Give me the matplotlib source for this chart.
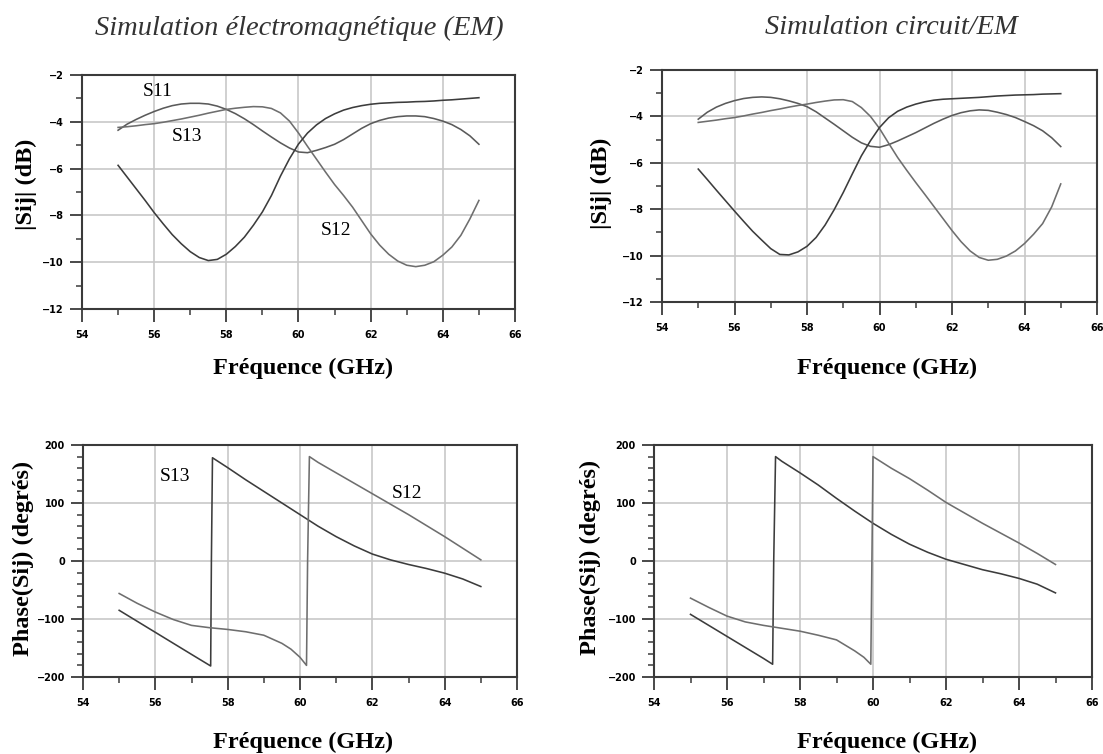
import matplotlib
matplotlib.use("Agg")
import matplotlib.pyplot as plt
from matplotlib.ticker import MultipleLocator

# ---------------- data ----------------
freq_ghz = [55.00, 55.25, 55.50, 55.75, 56.00, 56.25, 56.50, 56.75, 57.00, 57.25,
            57.50, 57.75, 58.00, 58.25, 58.50, 58.75, 59.00, 59.25, 59.50, 59.75,
            60.00, 60.25, 60.50, 60.75, 61.00, 61.25, 61.50, 61.75, 62.00, 62.25,
            62.50, 62.75, 63.00, 63.25, 63.50, 63.75, 64.00, 64.25, 64.50, 64.75,
            65.00]

# |Sij| (dB), electromagnetic simulation
em_s11_db = [-4.36, -4.10, -3.90, -3.72, -3.56, -3.42, -3.31, -3.24, -3.21, -3.21,
             -3.24, -3.33, -3.47, -3.65, -3.87, -4.12, -4.39, -4.65, -4.90, -5.12,
             -5.29, -5.32, -5.22, -5.10, -4.96, -4.76, -4.52, -4.28, -4.08, -3.94,
             -3.84, -3.78, -3.75, -3.75, -3.78, -3.86, -3.97, -4.12, -4.33, -4.60,
             -4.96]
em_s12_db = [-4.24, -4.21, -4.17, -4.12, -4.08, -4.02, -3.95, -3.88, -3.80, -3.72,
             -3.63, -3.55, -3.47, -3.42, -3.38, -3.35, -3.36, -3.43, -3.62, -3.97,
             -4.48, -5.05, -5.60, -6.15, -6.68, -7.15, -7.65, -8.22, -8.79, -9.27,
             -9.66, -9.95, -10.13, -10.19, -10.13, -9.98, -9.70, -9.35, -8.85, -8.15,
             -7.36]
em_s13_db = [-5.86, -6.36, -6.86, -7.36, -7.88, -8.36, -8.82, -9.21, -9.55, -9.80,
             -9.93, -9.88, -9.66, -9.33, -8.93, -8.42, -7.85, -7.15, -6.32, -5.58,
             -4.95, -4.48, -4.13, -3.86, -3.66, -3.50, -3.39, -3.31, -3.25, -3.21,
             -3.19, -3.17, -3.16, -3.14, -3.13, -3.11, -3.08, -3.06, -3.03, -3.00,
             -2.97]

# |Sij| (dB), circuit/EM co-simulation
co_s11_db = [-4.12, -3.82, -3.60, -3.44, -3.32, -3.23, -3.18, -3.16, -3.18, -3.24,
             -3.33, -3.44, -3.58, -3.80, -4.07, -4.34, -4.62, -4.90, -5.14, -5.29,
             -5.33, -5.22, -5.06, -4.88, -4.70, -4.50, -4.30, -4.12, -3.96, -3.84,
             -3.76, -3.72, -3.74, -3.82, -3.92, -4.05, -4.22, -4.40, -4.62, -4.92,
             -5.30]
co_s12_db = [-4.26, -4.21, -4.16, -4.10, -4.05, -3.98, -3.90, -3.83, -3.75, -3.68,
             -3.60, -3.53, -3.47, -3.40, -3.34, -3.29, -3.28, -3.36, -3.62, -4.00,
             -4.52, -5.15, -5.77, -6.32, -6.85, -7.36, -7.88, -8.40, -8.92, -9.40,
             -9.80, -10.08, -10.20, -10.16, -10.02, -9.80, -9.48, -9.08, -8.62, -7.90,
             -6.91]
co_s13_db = [-6.27, -6.72, -7.18, -7.63, -8.08, -8.52, -8.95, -9.33, -9.70, -9.95,
             -9.97, -9.84, -9.60, -9.22, -8.68, -8.02, -7.28, -6.48, -5.70, -5.05,
             -4.48, -4.06, -3.78, -3.60, -3.47, -3.37, -3.30, -3.26, -3.24, -3.22,
             -3.20, -3.18, -3.15, -3.12, -3.10, -3.08, -3.07, -3.06, -3.04, -3.03,
             -3.02]

# Phase(Sij) (degrees), electromagnetic simulation (wrapped to +/-180)
em_ph13_f = [55.0, 55.5, 56.0, 56.5, 57.0, 57.53, 57.55, 57.58, 58.0, 58.5, 59.0, 59.5,
             60.0, 60.5, 61.0, 61.5, 62.0, 62.5, 63.0, 63.5, 64.0, 64.5, 65.0]
em_ph13 = [-85, -104, -123, -142, -161, -181, 0, 178, 161, 140, 120, 100,
           80, 60, 42, 26, 12, 2, -6, -13, -21, -31, -44]
em_ph12_f = [55.0, 55.5, 56.0, 56.5, 57.0, 57.5, 58.0, 58.5, 59.0, 59.5, 59.75, 60.0,
             60.18, 60.21, 60.26, 60.5, 61.0, 61.5, 62.0, 62.5, 63.0, 63.5, 64.0, 64.5,
             65.0]
em_ph12 = [-56, -73, -88, -101, -111, -115, -118, -122, -128, -142, -152, -166,
           -180, 0, 180, 170, 152, 134, 116, 98, 80, 61, 42, 22, 2]

# Phase(Sij) (degrees), circuit/EM co-simulation
co_ph13_f = [55.0, 55.5, 56.0, 56.5, 57.0, 57.25, 57.28, 57.33, 57.5, 58.0, 58.5, 59.0,
             59.5, 60.0, 60.5, 61.0, 61.5, 62.0, 62.5, 63.0, 63.5, 64.0, 64.5, 65.0]
co_ph13 = [-92, -111, -130, -149, -168, -178, 0, 180, 172, 152, 131, 108,
           86, 65, 46, 29, 15, 3, -6, -15, -22, -30, -40, -55]
co_ph12_f = [55.0, 55.5, 56.0, 56.5, 57.0, 57.5, 58.0, 58.5, 59.0, 59.5, 59.75, 59.94,
             59.97, 60.0, 60.5, 61.0, 61.5, 62.0, 62.5, 63.0, 63.5, 64.0, 64.5, 65.0]
co_ph12 = [-64, -80, -95, -105, -111, -116, -121, -128, -136, -155, -166, -178,
           0, 180, 160, 142, 122, 101, 83, 65, 48, 31, 13, -6]

# ---------------- figure ----------------
W, H = 1103, 754
fig = plt.figure(figsize=(W / 100, H / 100), dpi=100)
fig.patch.set_facecolor("white")

SERIF = ["Liberation Serif", "DejaVu Serif"]
SPINE = "#3a3a3a"
GRID = "#c8c8c8"
DARK = "#3c3c3c"
MID = "#5a5a5a"
LIGHT = "#6e6e6e"


def axes_px(left, top, right, bottom):
    return fig.add_axes([left / W, 1 - bottom / H, (right - left) / W, (bottom - top) / H])


def style(ax, ylim, ymajor, yminor):
    ax.set_xlim(54, 66)
    ax.set_ylim(*ylim)
    ax.xaxis.set_major_locator(MultipleLocator(2))
    ax.xaxis.set_minor_locator(MultipleLocator(1))
    ax.yaxis.set_major_locator(MultipleLocator(ymajor))
    ax.yaxis.set_minor_locator(MultipleLocator(yminor))
    ax.grid(True, which="major", color=GRID, linewidth=1.2)
    ax.set_axisbelow(True)
    for s in ax.spines.values():
        s.set_color(SPINE)
        s.set_linewidth(1.5)
    ax.tick_params(which="major", direction="out", length=9, width=1.3, color=SPINE,
                   labelsize=7, pad=4, top=False, right=False)
    ax.tick_params(which="minor", direction="out", length=4, width=1.1, color=SPINE,
                   top=False, right=False)
    ax.tick_params(axis="x", which="major", pad=6)
    for lab in ax.get_xticklabels() + ax.get_yticklabels():
        lab.set_fontweight("bold")


def fig_text(x, y, s, **kw):
    fig.text(x / W, 1 - y / H, s, ha="center", va="center", **kw)


LW = 1.15

# magnitude, EM
ax1 = axes_px(82, 75, 515, 309)
ax1.plot(freq_ghz, em_s11_db, color=MID, lw=LW)
ax1.plot(freq_ghz, em_s12_db, color=LIGHT, lw=LW)
ax1.plot(freq_ghz, em_s13_db, color=DARK, lw=LW)
style(ax1, (-12, -2), 2, 1)
ax1.text(56.1, -2.72, "S11", family=SERIF, fontsize=14, ha="center", va="center")
ax1.text(56.9, -4.64, "S13", family=SERIF, fontsize=14, ha="center", va="center")
ax1.text(61.05, -8.64, "S12", family=SERIF, fontsize=14, ha="center", va="center")

# magnitude, circuit/EM
ax2 = axes_px(662, 70, 1097, 302)
ax2.plot(freq_ghz, co_s11_db, color=MID, lw=LW)
ax2.plot(freq_ghz, co_s12_db, color=LIGHT, lw=LW)
ax2.plot(freq_ghz, co_s13_db, color=DARK, lw=LW)
style(ax2, (-12, -2), 2, 1)

# phase, EM
ax3 = axes_px(83, 445, 517, 677)
ax3.plot(em_ph13_f, em_ph13, color=DARK, lw=LW)
ax3.plot(em_ph12_f, em_ph12, color=LIGHT, lw=LW)
style(ax3, (-200, 200), 100, 20)
ax3.text(56.55, 145, "S13", family=SERIF, fontsize=14, ha="center", va="center")
ax3.text(62.95, 116, "S12", family=SERIF, fontsize=14, ha="center", va="center")

# phase, circuit/EM
ax4 = axes_px(654, 445, 1092, 677)
ax4.plot(co_ph13_f, co_ph13, color=DARK, lw=LW)
ax4.plot(co_ph12_f, co_ph12, color=LIGHT, lw=LW)
style(ax4, (-200, 200), 100, 20)

# titles and axis labels
fig_text(299, 28, "Simulation électromagnétique (EM)", family=SERIF, style="italic",
         fontsize=20.5, color="#333333")
fig_text(891, 27, "Simulation circuit/EM", family=SERIF, style="italic",
         fontsize=20.5, color="#333333")

for x, y in [(303, 368), (887, 368), (303, 742), (887, 742)]:
    fig_text(x, y, "Fréquence (GHz)", family=SERIF, fontweight="bold", fontsize=17.5)
for x, y in [(26, 184), (601, 183)]:
    fig_text(x, y, "|Sij| (dB)", family=SERIF, fontweight="bold", fontsize=17.5,
             rotation=90)
for x, y in [(23, 558), (590, 557)]:
    fig_text(x, y, "Phase(Sij) (degrés)", family=SERIF, fontweight="bold", fontsize=17.5,
             rotation=90)

fig.savefig("out.png", dpi=100, facecolor="white")
